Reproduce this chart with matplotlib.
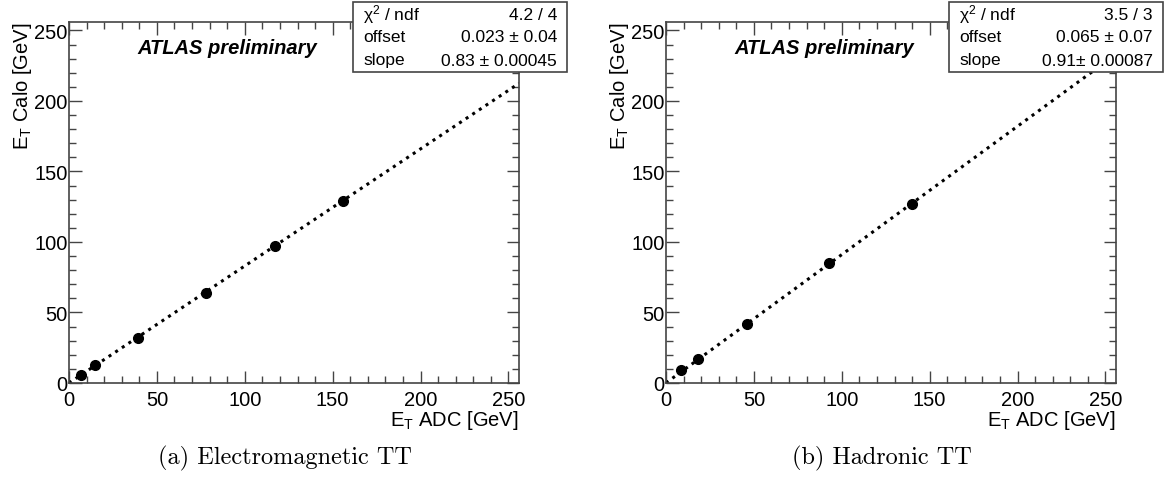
import numpy as np
import matplotlib
matplotlib.use("Agg")
import matplotlib.pyplot as plt
from matplotlib.ticker import MultipleLocator

plt.rcParams['font.family'] = ['Liberation Sans', 'DejaVu Sans']
plt.rcParams['mathtext.fontset'] = 'custom'
plt.rcParams['mathtext.rm'] = 'Liberation Sans'
plt.rcParams['mathtext.it'] = 'Liberation Sans:italic'
plt.rcParams['mathtext.default'] = 'regular'

# dati
em_adc = [7, 15, 39, 78, 117, 156]
em_calo = [6, 13, 32, 64, 97, 129]
em_fit = [0.023, 0.83]
em_stats = ['4.2 / 4', '0.023 ± 0.04', '0.83 ± 0.00045']

had_adc = [8.5, 18, 46, 93, 140]
had_calo = [9, 17, 42, 85, 127]
had_fit = [0.065, 0.91]
had_stats = ['3.5 / 3', '0.065 ± 0.07', '0.91± 0.00087']

stat_names = ['χ$^2$ / ndf', 'offset', 'slope']
captions = ['(a) Electromagnetic TT', '(b) Hadronic TT']

W, H = 1164, 485
fig = plt.figure(figsize=(W / 100, H / 100), dpi=100)

frame = '#444444'


def pannello(x0, adc, calo, fit, stats, caption, box_x0):
    ax = fig.add_axes([x0 / W, 101 / H, 450 / W, 361 / H])
    xx = np.linspace(0, 256, 200)
    ax.plot(xx, fit[0] + fit[1] * xx, color='black', linestyle=(0, (1, 1.6)),
            linewidth=2.2, zorder=2)
    ax.plot(adc, calo, 'o', color='black', markersize=7, zorder=3)
    ax.set_xlim(0, 256)
    ax.set_ylim(0, 256)
    ax.xaxis.set_major_locator(MultipleLocator(50))
    ax.xaxis.set_minor_locator(MultipleLocator(10))
    ax.yaxis.set_major_locator(MultipleLocator(50))
    ax.yaxis.set_minor_locator(MultipleLocator(10))
    ax.tick_params(which='both', direction='in', top=True, right=True,
                   color=frame, labelsize=14.5)
    ax.tick_params(which='major', length=9, width=1)
    ax.tick_params(which='minor', length=5, width=1)
    ax.tick_params(axis='x', pad=5)
    ax.tick_params(axis='y', pad=1)
    for s in ax.spines.values():
        s.set_color(frame)
        s.set_linewidth(1.2)
    ax.set_xlabel('E$_{T}$ ADC [GeV]', fontsize=14.5, loc='right', labelpad=-1)
    ax.set_ylabel('E$_{T}$ Calo [GeV]', fontsize=14.5, loc='top', labelpad=0)
    ax.text(0.151, 0.93, 'ATLAS preliminary', transform=ax.transAxes,
            fontsize=14.5, fontweight='bold', fontstyle='italic', va='center')

    # riquadro statistiche in stile ROOT
    bw, bh = 214, 70
    box = plt.Rectangle((box_x0 / W, (H - 73) / H), bw / W, bh / H,
                        transform=fig.transFigure, facecolor='white',
                        edgecolor=frame, linewidth=1.2, zorder=5)
    fig.add_artist(box)
    rows = [15, 38, 61]
    for name, val, ry in zip(stat_names, stats, rows):
        fig.text((box_x0 + 10) / W, (H - ry) / H, name, fontsize=12.5,
                 va='center', ha='left', zorder=6)
        fig.text((box_x0 + bw - 10) / W, (H - ry) / H, val, fontsize=12.5,
                 va='center', ha='right', zorder=6)

    fig.text((x0 + 216) / W, (H - 458) / H, caption, family='cmr10',
             fontsize=17.5, ha='center', va='center')
    return ax


pannello(69, em_adc, em_calo, em_fit, em_stats, captions[0], 353)
pannello(666, had_adc, had_calo, had_fit, had_stats, captions[1], 949)

fig.savefig('out.png', dpi=100)
